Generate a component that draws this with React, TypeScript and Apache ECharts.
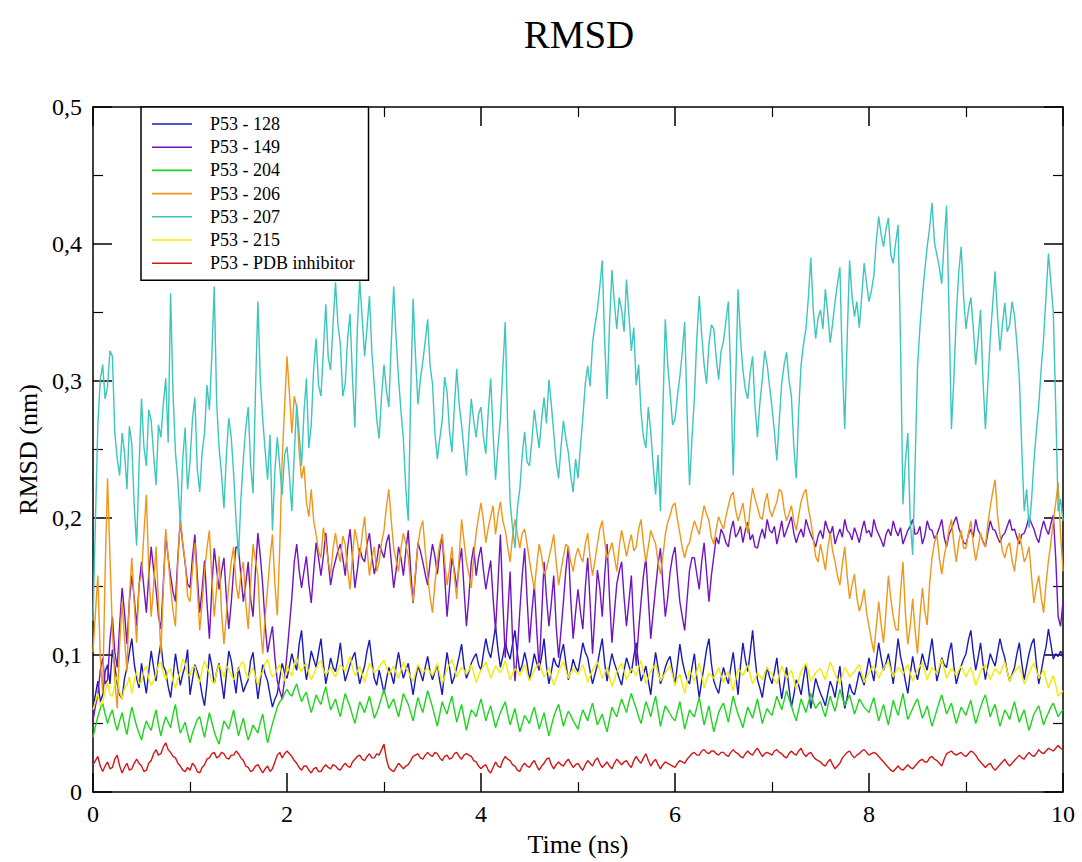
import React, { useEffect, useRef } from "react";
import * as echarts from "echarts";

// Simulation length (ns); each series is sampled uniformly over it
const SIM_LENGTH_NS = 10;

const SERIES_NAMES = [
  "P53 - 128",
  "P53 - 149",
  "P53 - 204",
  "P53 - 206",
  "P53 - 207",
  "P53 - 215",
  "P53 - PDB inhibitor",
];

const SERIES_COLORS = ["#1a1ab8", "#7014c0", "#1ed41e", "#f0961a", "#3cc6bc", "#f4ec00", "#d41616"];

const X_TICKS = [0, 2, 4, 6, 8, 10];
const Y_TICKS = [0, 0.1, 0.2, 0.3, 0.4, 0.5];

const rmsd128 = [
  0.062, 0.071, 0.081, 0.066, 0.071, 0.088, 0.093, 0.079, 0.104, 0.092,
  0.079, 0.071, 0.068, 0.083, 0.091, 0.102, 0.112, 0.094, 0.083, 0.076,
  0.094, 0.083, 0.072, 0.088, 0.103, 0.091, 0.081, 0.098, 0.109, 0.092,
  0.088, 0.077, 0.069, 0.084, 0.101, 0.089, 0.078, 0.086, 0.092, 0.104,
  0.071, 0.082, 0.093, 0.088, 0.082, 0.071, 0.063, 0.079, 0.101, 0.092,
  0.079, 0.088, 0.094, 0.081, 0.068, 0.086, 0.103, 0.096, 0.084, 0.072,
  0.091, 0.082, 0.073, 0.078, 0.082, 0.096, 0.102, 0.084, 0.068, 0.081,
  0.093, 0.086, 0.081, 0.071, 0.062, 0.068, 0.072, 0.083, 0.094, 0.087,
  0.083, 0.092, 0.101, 0.094, 0.089, 0.108, 0.118, 0.096, 0.082, 0.091,
  0.103, 0.097, 0.091, 0.102, 0.112, 0.094, 0.079, 0.088, 0.098, 0.091,
  0.088, 0.097, 0.109, 0.092, 0.081, 0.087, 0.093, 0.098, 0.102, 0.089,
  0.079, 0.086, 0.092, 0.103, 0.111, 0.096, 0.083, 0.078, 0.089, 0.081,
  0.072, 0.082, 0.091, 0.086, 0.079, 0.092, 0.102, 0.091, 0.083, 0.089,
  0.094, 0.082, 0.071, 0.083, 0.092, 0.087, 0.081, 0.091, 0.099, 0.088,
  0.082, 0.088, 0.093, 0.081, 0.071, 0.088, 0.102, 0.091, 0.079, 0.084,
  0.091, 0.099, 0.108, 0.092, 0.083, 0.088, 0.094, 0.098, 0.101, 0.093,
  0.089, 0.101, 0.112, 0.103, 0.098, 0.109, 0.121, 0.104, 0.091, 0.099,
  0.109, 0.102, 0.097, 0.108, 0.118, 0.101, 0.088, 0.093, 0.102, 0.094,
  0.082, 0.091, 0.101, 0.094, 0.089, 0.099, 0.112, 0.092, 0.079, 0.088,
  0.098, 0.093, 0.091, 0.101, 0.108, 0.094, 0.082, 0.088, 0.097, 0.091,
  0.088, 0.098, 0.109, 0.102, 0.098, 0.088, 0.079, 0.086, 0.093, 0.103,
  0.112, 0.094, 0.081, 0.092, 0.101, 0.094, 0.089, 0.083, 0.078, 0.089,
  0.098, 0.092, 0.087, 0.099, 0.109, 0.093, 0.081, 0.086, 0.092, 0.081,
  0.071, 0.088, 0.102, 0.091, 0.079, 0.084, 0.091, 0.096, 0.099, 0.088,
  0.078, 0.093, 0.108, 0.096, 0.088, 0.082, 0.079, 0.091, 0.101, 0.083,
  0.069, 0.081, 0.092, 0.104, 0.112, 0.094, 0.081, 0.076, 0.072, 0.083,
  0.091, 0.084, 0.079, 0.091, 0.102, 0.086, 0.071, 0.092, 0.109, 0.097,
  0.088, 0.102, 0.118, 0.098, 0.082, 0.076, 0.069, 0.081, 0.091, 0.084,
  0.079, 0.088, 0.098, 0.081, 0.068, 0.079, 0.091, 0.076, 0.062, 0.071,
  0.082, 0.078, 0.071, 0.083, 0.093, 0.077, 0.061, 0.072, 0.083, 0.077,
  0.072, 0.068, 0.063, 0.072, 0.081, 0.076, 0.069, 0.081, 0.092, 0.074,
  0.061, 0.069, 0.079, 0.073, 0.071, 0.079, 0.088, 0.083, 0.078, 0.088,
  0.098, 0.089, 0.081, 0.096, 0.109, 0.098, 0.089, 0.094, 0.101, 0.091,
  0.079, 0.096, 0.112, 0.099, 0.091, 0.081, 0.072, 0.086, 0.099, 0.089,
  0.082, 0.091, 0.101, 0.094, 0.089, 0.101, 0.112, 0.096, 0.081, 0.089,
  0.098, 0.093, 0.091, 0.102, 0.109, 0.092, 0.079, 0.086, 0.092, 0.097,
  0.101, 0.111, 0.118, 0.102, 0.089, 0.098, 0.109, 0.094, 0.082, 0.092,
  0.101, 0.096, 0.092, 0.102, 0.112, 0.104, 0.098, 0.088, 0.081, 0.086,
  0.091, 0.101, 0.109, 0.094, 0.082, 0.092, 0.101, 0.108, 0.112, 0.094,
  0.079, 0.088, 0.098, 0.106, 0.119, 0.108, 0.097, 0.101, 0.099, 0.103,
  0.098,
];

const rmsd149 = [
  0.052, 0.063, 0.071, 0.089, 0.098, 0.079, 0.082, 0.111, 0.128, 0.102,
  0.091, 0.122, 0.149, 0.131, 0.108, 0.139, 0.158, 0.142, 0.121, 0.151,
  0.168, 0.149, 0.131, 0.158, 0.179, 0.162, 0.148, 0.128, 0.119, 0.152,
  0.188, 0.171, 0.158, 0.146, 0.139, 0.172, 0.198, 0.181, 0.167, 0.152,
  0.149, 0.171, 0.188, 0.158, 0.131, 0.148, 0.169, 0.138, 0.112, 0.149,
  0.178, 0.162, 0.148, 0.161, 0.171, 0.142, 0.119, 0.138, 0.162, 0.179,
  0.178, 0.158, 0.139, 0.152, 0.168, 0.141, 0.128, 0.162, 0.189, 0.172,
  0.151, 0.122, 0.102, 0.112, 0.121, 0.098, 0.081, 0.074, 0.068, 0.082,
  0.101, 0.121, 0.142, 0.168, 0.181, 0.162, 0.149, 0.161, 0.172, 0.152,
  0.138, 0.161, 0.182, 0.171, 0.158, 0.172, 0.189, 0.168, 0.151, 0.162,
  0.169, 0.176, 0.181, 0.171, 0.158, 0.178, 0.192, 0.172, 0.149, 0.162,
  0.178, 0.171, 0.168, 0.181, 0.189, 0.172, 0.159, 0.168, 0.181, 0.176,
  0.171, 0.182, 0.188, 0.168, 0.149, 0.162, 0.179, 0.171, 0.158, 0.176,
  0.191, 0.162, 0.138, 0.159, 0.182, 0.176, 0.168, 0.159, 0.151, 0.168,
  0.181, 0.172, 0.159, 0.176, 0.188, 0.158, 0.128, 0.149, 0.171, 0.162,
  0.149, 0.166, 0.178, 0.148, 0.121, 0.142, 0.168, 0.179, 0.158, 0.171,
  0.179, 0.162, 0.148, 0.159, 0.169, 0.141, 0.118, 0.152, 0.188, 0.139,
  0.098, 0.128, 0.161, 0.112, 0.081, 0.102, 0.132, 0.158, 0.178, 0.141,
  0.109, 0.132, 0.151, 0.118, 0.089, 0.128, 0.168, 0.142, 0.121, 0.138,
  0.158, 0.121, 0.098, 0.118, 0.139, 0.162, 0.179, 0.141, 0.112, 0.131,
  0.148, 0.132, 0.119, 0.149, 0.171, 0.138, 0.101, 0.131, 0.162, 0.149,
  0.128, 0.158, 0.181, 0.142, 0.109, 0.131, 0.152, 0.161, 0.168, 0.142,
  0.121, 0.139, 0.158, 0.121, 0.092, 0.118, 0.139, 0.158, 0.171, 0.141,
  0.112, 0.131, 0.149, 0.166, 0.178, 0.152, 0.128, 0.142, 0.161, 0.172,
  0.179, 0.158, 0.139, 0.128, 0.118, 0.141, 0.162, 0.171, 0.171, 0.159,
  0.148, 0.168, 0.182, 0.161, 0.139, 0.158, 0.172, 0.186, 0.181, 0.192,
  0.188, 0.182, 0.179, 0.191, 0.198, 0.186, 0.189, 0.194, 0.182, 0.191,
  0.197, 0.184, 0.188, 0.179, 0.178, 0.186, 0.192, 0.185, 0.199, 0.191,
  0.189, 0.194, 0.181, 0.189, 0.198, 0.186, 0.191, 0.196, 0.201, 0.189,
  0.182, 0.188, 0.192, 0.186, 0.199, 0.193, 0.188, 0.184, 0.179, 0.187,
  0.191, 0.185, 0.198, 0.192, 0.188, 0.194, 0.181, 0.187, 0.192, 0.186,
  0.199, 0.191, 0.189, 0.184, 0.193, 0.188, 0.182, 0.191, 0.198, 0.189,
  0.191, 0.186, 0.199, 0.192, 0.188, 0.184, 0.179, 0.188, 0.192, 0.187,
  0.198, 0.191, 0.187, 0.193, 0.181, 0.186, 0.191, 0.194, 0.199, 0.188,
  0.189, 0.194, 0.181, 0.187, 0.198, 0.192, 0.191, 0.185, 0.188, 0.193,
  0.199, 0.186, 0.179, 0.188, 0.192, 0.197, 0.201, 0.193, 0.188, 0.182,
  0.181, 0.188, 0.192, 0.186, 0.199, 0.191, 0.188, 0.183, 0.179, 0.189,
  0.198, 0.192, 0.191, 0.186, 0.182, 0.187, 0.189, 0.194, 0.199, 0.191,
  0.192, 0.186, 0.181, 0.188, 0.189, 0.194, 0.201, 0.196, 0.192, 0.186,
  0.182, 0.191, 0.198, 0.192, 0.188, 0.196, 0.202, 0.171, 0.128, 0.121,
  0.139,
];

const rmsd204 = [
  0.040, 0.048, 0.055, 0.061, 0.065, 0.057, 0.050, 0.056, 0.060, 0.051,
  0.045, 0.052, 0.058, 0.049, 0.042, 0.053, 0.062, 0.055, 0.048, 0.043,
  0.038, 0.046, 0.052, 0.048, 0.045, 0.053, 0.060, 0.049, 0.041, 0.049,
  0.055, 0.051, 0.047, 0.057, 0.064, 0.052, 0.043, 0.047, 0.051, 0.043,
  0.036, 0.043, 0.048, 0.053, 0.055, 0.047, 0.040, 0.049, 0.058, 0.051,
  0.044, 0.039, 0.035, 0.044, 0.052, 0.049, 0.046, 0.053, 0.060, 0.050,
  0.041, 0.048, 0.054, 0.045, 0.038, 0.043, 0.049, 0.046, 0.043, 0.051,
  0.057, 0.046, 0.036, 0.043, 0.050, 0.056, 0.062, 0.066, 0.068, 0.072,
  0.075, 0.072, 0.070, 0.075, 0.079, 0.072, 0.066, 0.070, 0.073, 0.065,
  0.058, 0.064, 0.071, 0.067, 0.064, 0.071, 0.077, 0.068, 0.060, 0.064,
  0.068, 0.061, 0.055, 0.064, 0.072, 0.067, 0.062, 0.056, 0.050, 0.058,
  0.066, 0.062, 0.058, 0.064, 0.070, 0.062, 0.054, 0.058, 0.063, 0.069,
  0.075, 0.068, 0.061, 0.065, 0.068, 0.061, 0.055, 0.063, 0.072, 0.068,
  0.064, 0.058, 0.052, 0.061, 0.069, 0.063, 0.058, 0.066, 0.074, 0.068,
  0.062, 0.055, 0.048, 0.057, 0.066, 0.061, 0.057, 0.064, 0.070, 0.060,
  0.051, 0.058, 0.064, 0.054, 0.045, 0.053, 0.060, 0.058, 0.055, 0.062,
  0.068, 0.060, 0.052, 0.058, 0.063, 0.055, 0.047, 0.053, 0.058, 0.062,
  0.066, 0.057, 0.049, 0.055, 0.061, 0.052, 0.044, 0.050, 0.056, 0.053,
  0.050, 0.057, 0.062, 0.054, 0.046, 0.052, 0.058, 0.049, 0.041, 0.048,
  0.055, 0.060, 0.064, 0.056, 0.048, 0.054, 0.059, 0.056, 0.052, 0.049,
  0.046, 0.054, 0.060, 0.056, 0.052, 0.059, 0.065, 0.057, 0.049, 0.053,
  0.057, 0.050, 0.044, 0.053, 0.062, 0.058, 0.055, 0.062, 0.068, 0.063,
  0.058, 0.066, 0.072, 0.066, 0.061, 0.055, 0.050, 0.058, 0.066, 0.061,
  0.055, 0.063, 0.070, 0.059, 0.048, 0.056, 0.063, 0.060, 0.057, 0.054,
  0.052, 0.059, 0.066, 0.056, 0.046, 0.053, 0.060, 0.057, 0.055, 0.062,
  0.069, 0.059, 0.049, 0.056, 0.063, 0.053, 0.044, 0.051, 0.058, 0.062,
  0.065, 0.058, 0.051, 0.061, 0.070, 0.063, 0.057, 0.052, 0.047, 0.055,
  0.062, 0.058, 0.054, 0.061, 0.068, 0.059, 0.050, 0.056, 0.061, 0.058,
  0.056, 0.063, 0.070, 0.065, 0.060, 0.067, 0.074, 0.068, 0.063, 0.057,
  0.052, 0.060, 0.068, 0.063, 0.058, 0.065, 0.072, 0.066, 0.061, 0.064,
  0.066, 0.060, 0.055, 0.063, 0.070, 0.064, 0.059, 0.067, 0.075, 0.069,
  0.063, 0.067, 0.071, 0.064, 0.057, 0.062, 0.068, 0.065, 0.062, 0.060,
  0.058, 0.064, 0.069, 0.060, 0.052, 0.058, 0.064, 0.056, 0.049, 0.058,
  0.067, 0.061, 0.056, 0.064, 0.072, 0.062, 0.053, 0.057, 0.061, 0.065,
  0.068, 0.061, 0.054, 0.058, 0.063, 0.055, 0.048, 0.054, 0.060, 0.066,
  0.071, 0.064, 0.057, 0.061, 0.065, 0.057, 0.050, 0.056, 0.062, 0.059,
  0.056, 0.062, 0.067, 0.058, 0.050, 0.056, 0.062, 0.067, 0.071, 0.063,
  0.055, 0.060, 0.064, 0.056, 0.048, 0.054, 0.060, 0.057, 0.053, 0.060,
  0.066, 0.058, 0.051, 0.056, 0.060, 0.052, 0.045, 0.051, 0.057, 0.060,
  0.063, 0.056, 0.049, 0.054, 0.058, 0.062, 0.065, 0.060, 0.055, 0.058,
  0.060,
];

const rmsd206 = [
  0.102, 0.131, 0.158, 0.098, 0.072, 0.161, 0.229, 0.172, 0.118, 0.082,
  0.061, 0.108, 0.139, 0.112, 0.088, 0.142, 0.171, 0.138, 0.109, 0.152,
  0.158, 0.189, 0.217, 0.162, 0.128, 0.151, 0.179, 0.138, 0.101, 0.148,
  0.192, 0.171, 0.149, 0.132, 0.121, 0.168, 0.201, 0.182, 0.168, 0.143,
  0.139, 0.162, 0.182, 0.149, 0.118, 0.138, 0.161, 0.178, 0.191, 0.156,
  0.128, 0.149, 0.172, 0.131, 0.108, 0.129, 0.151, 0.168, 0.179, 0.152,
  0.141, 0.159, 0.168, 0.138, 0.119, 0.152, 0.181, 0.169, 0.158, 0.122,
  0.101, 0.128, 0.149, 0.171, 0.188, 0.152, 0.129, 0.178, 0.242, 0.281,
  0.318, 0.291, 0.262, 0.289, 0.281, 0.248, 0.229, 0.238, 0.212, 0.201,
  0.221, 0.198, 0.188, 0.176, 0.171, 0.193, 0.182, 0.168, 0.159, 0.178,
  0.189, 0.176, 0.168, 0.187, 0.181, 0.162, 0.148, 0.172, 0.192, 0.183,
  0.171, 0.188, 0.201, 0.178, 0.158, 0.171, 0.179, 0.161, 0.168, 0.182,
  0.191, 0.208, 0.221, 0.198, 0.178, 0.169, 0.161, 0.178, 0.189, 0.181,
  0.172, 0.151, 0.139, 0.162, 0.181, 0.192, 0.198, 0.176, 0.158, 0.142,
  0.131, 0.152, 0.169, 0.181, 0.188, 0.169, 0.151, 0.163, 0.179, 0.158,
  0.141, 0.172, 0.199, 0.183, 0.168, 0.159, 0.149, 0.172, 0.189, 0.201,
  0.211, 0.198, 0.182, 0.193, 0.201, 0.209, 0.188, 0.202, 0.212, 0.198,
  0.191, 0.179, 0.168, 0.186, 0.199, 0.188, 0.178, 0.189, 0.192, 0.181,
  0.169, 0.158, 0.148, 0.166, 0.181, 0.172, 0.159, 0.163, 0.171, 0.179,
  0.188, 0.168, 0.151, 0.162, 0.172, 0.181, 0.179, 0.168, 0.161, 0.172,
  0.178, 0.172, 0.168, 0.181, 0.189, 0.171, 0.158, 0.169, 0.181, 0.192,
  0.198, 0.183, 0.171, 0.176, 0.182, 0.172, 0.161, 0.179, 0.191, 0.182,
  0.172, 0.181, 0.188, 0.176, 0.179, 0.192, 0.199, 0.181, 0.168, 0.179,
  0.191, 0.186, 0.181, 0.168, 0.159, 0.172, 0.188, 0.197, 0.202, 0.209,
  0.211, 0.199, 0.189, 0.178, 0.171, 0.179, 0.182, 0.191, 0.198, 0.193,
  0.188, 0.199, 0.209, 0.203, 0.198, 0.186, 0.181, 0.192, 0.201, 0.196,
  0.192, 0.201, 0.209, 0.216, 0.219, 0.206, 0.198, 0.204, 0.211, 0.198,
  0.189, 0.208, 0.222, 0.214, 0.208, 0.201, 0.199, 0.211, 0.218, 0.206,
  0.201, 0.207, 0.212, 0.221, 0.219, 0.206, 0.198, 0.203, 0.209, 0.198,
  0.191, 0.202, 0.212, 0.218, 0.221, 0.207, 0.198, 0.186, 0.172, 0.168,
  0.181, 0.172, 0.162, 0.178, 0.189, 0.176, 0.168, 0.158, 0.151, 0.166,
  0.179, 0.158, 0.141, 0.151, 0.159, 0.142, 0.132, 0.138, 0.148, 0.131,
  0.121, 0.111, 0.102, 0.121, 0.139, 0.122, 0.109, 0.132, 0.158, 0.141,
  0.128, 0.119, 0.118, 0.146, 0.168, 0.131, 0.108, 0.121, 0.141, 0.118,
  0.101, 0.128, 0.149, 0.132, 0.122, 0.152, 0.171, 0.182, 0.188, 0.171,
  0.159, 0.172, 0.181, 0.192, 0.199, 0.181, 0.168, 0.182, 0.191, 0.178,
  0.178, 0.189, 0.198, 0.181, 0.169, 0.178, 0.189, 0.182, 0.179, 0.196,
  0.208, 0.219, 0.228, 0.202, 0.188, 0.176, 0.171, 0.179, 0.182, 0.169,
  0.161, 0.176, 0.189, 0.179, 0.168, 0.172, 0.179, 0.158, 0.138, 0.149,
  0.158, 0.142, 0.131, 0.152, 0.169, 0.182, 0.198, 0.211, 0.226, 0.188,
  0.161,
];

const rmsd207 = [
  0.125, 0.198, 0.268, 0.301, 0.312, 0.287, 0.296, 0.322, 0.318, 0.262,
  0.243, 0.231, 0.262, 0.248, 0.221, 0.267, 0.254, 0.209, 0.180, 0.238,
  0.287, 0.252, 0.238, 0.279, 0.271, 0.246, 0.224, 0.268, 0.259, 0.283,
  0.302, 0.255, 0.364, 0.291, 0.248, 0.227, 0.196, 0.243, 0.266, 0.221,
  0.241, 0.272, 0.288, 0.236, 0.219, 0.248, 0.262, 0.297, 0.279, 0.318,
  0.369, 0.284, 0.251, 0.232, 0.207, 0.246, 0.273, 0.259, 0.232, 0.198,
  0.172, 0.214, 0.243, 0.266, 0.281, 0.239, 0.218, 0.293, 0.358, 0.301,
  0.272, 0.249, 0.228, 0.261, 0.191, 0.234, 0.259, 0.238, 0.217, 0.246,
  0.252, 0.231, 0.205, 0.247, 0.283, 0.262, 0.238, 0.277, 0.302, 0.251,
  0.268, 0.309, 0.331, 0.297, 0.289, 0.322, 0.356, 0.317, 0.308, 0.342,
  0.372, 0.341, 0.327, 0.289, 0.298, 0.331, 0.349, 0.302, 0.266, 0.338,
  0.374, 0.346, 0.318, 0.339, 0.362, 0.321, 0.297, 0.272, 0.258, 0.289,
  0.312, 0.293, 0.281, 0.328, 0.369, 0.331, 0.302, 0.278, 0.257, 0.221,
  0.198, 0.289, 0.360, 0.318, 0.283, 0.301, 0.314, 0.329, 0.345, 0.311,
  0.298, 0.262, 0.243, 0.258, 0.271, 0.303, 0.292, 0.264, 0.248, 0.281,
  0.309, 0.283, 0.268, 0.249, 0.231, 0.262, 0.287, 0.271, 0.259, 0.276,
  0.281, 0.259, 0.247, 0.278, 0.302, 0.261, 0.228, 0.252, 0.272, 0.309,
  0.343, 0.268, 0.212, 0.193, 0.178, 0.207, 0.221, 0.246, 0.263, 0.241,
  0.238, 0.257, 0.279, 0.264, 0.251, 0.272, 0.288, 0.269, 0.301, 0.283,
  0.262, 0.241, 0.229, 0.252, 0.271, 0.258, 0.248, 0.231, 0.219, 0.243,
  0.229, 0.252, 0.273, 0.298, 0.311, 0.296, 0.328, 0.341, 0.352, 0.369,
  0.388, 0.329, 0.287, 0.342, 0.381, 0.357, 0.338, 0.361, 0.352, 0.336,
  0.374, 0.348, 0.322, 0.339, 0.297, 0.312, 0.277, 0.259, 0.251, 0.281,
  0.263, 0.238, 0.217, 0.246, 0.205, 0.278, 0.345, 0.312, 0.291, 0.268,
  0.272, 0.289, 0.303, 0.321, 0.343, 0.276, 0.224, 0.258, 0.288, 0.331,
  0.362, 0.334, 0.312, 0.298, 0.327, 0.341, 0.338, 0.317, 0.301, 0.322,
  0.329, 0.344, 0.358, 0.302, 0.231, 0.298, 0.367, 0.331, 0.308, 0.294,
  0.287, 0.306, 0.318, 0.281, 0.259, 0.284, 0.301, 0.322, 0.312, 0.296,
  0.281, 0.263, 0.242, 0.271, 0.298, 0.312, 0.321, 0.301, 0.289, 0.252,
  0.229, 0.278, 0.312, 0.327, 0.338, 0.361, 0.390, 0.352, 0.331, 0.346,
  0.352, 0.338, 0.367, 0.349, 0.328, 0.342, 0.358, 0.371, 0.383, 0.312,
  0.265, 0.331, 0.388, 0.362, 0.347, 0.358, 0.339, 0.362, 0.386, 0.371,
  0.358, 0.366, 0.377, 0.402, 0.420, 0.407, 0.398, 0.411, 0.419, 0.392,
  0.386, 0.401, 0.414, 0.328, 0.210, 0.241, 0.262, 0.198, 0.173, 0.238,
  0.310, 0.339, 0.362, 0.381, 0.398, 0.412, 0.430, 0.401, 0.392, 0.383,
  0.371, 0.402, 0.428, 0.351, 0.265, 0.302, 0.348, 0.379, 0.398, 0.362,
  0.338, 0.352, 0.361, 0.339, 0.312, 0.331, 0.352, 0.301, 0.265, 0.298,
  0.331, 0.356, 0.380, 0.348, 0.322, 0.341, 0.357, 0.336, 0.341, 0.358,
  0.348, 0.327, 0.302, 0.251, 0.205, 0.221, 0.193, 0.212, 0.241, 0.263,
  0.282, 0.309, 0.331, 0.362, 0.393, 0.372, 0.350, 0.281, 0.205, 0.214,
  0.198,
];

const rmsd215 = [
  0.060, 0.066, 0.072, 0.063, 0.065, 0.074, 0.080, 0.071, 0.070, 0.079,
  0.085, 0.073, 0.068, 0.076, 0.078, 0.084, 0.072, 0.081, 0.088, 0.079,
  0.080, 0.089, 0.092, 0.083, 0.078, 0.081, 0.086, 0.093, 0.095, 0.087,
  0.082, 0.088, 0.090, 0.081, 0.076, 0.083, 0.088, 0.097, 0.094, 0.086,
  0.085, 0.091, 0.092, 0.084, 0.080, 0.089, 0.096, 0.091, 0.087, 0.081,
  0.079, 0.088, 0.093, 0.089, 0.084, 0.092, 0.090, 0.085, 0.082, 0.087,
  0.089, 0.094, 0.095, 0.087, 0.083, 0.088, 0.091, 0.084, 0.078, 0.085,
  0.088, 0.094, 0.097, 0.089, 0.084, 0.086, 0.090, 0.093, 0.086, 0.081,
  0.092, 0.088, 0.085, 0.093, 0.098, 0.091, 0.088, 0.092, 0.094, 0.087,
  0.082, 0.086, 0.090, 0.094, 0.096, 0.089, 0.086, 0.088, 0.091, 0.087,
  0.084, 0.089, 0.093, 0.091, 0.088, 0.094, 0.099, 0.091, 0.085, 0.088,
  0.092, 0.086, 0.080, 0.087, 0.094, 0.091, 0.087, 0.089, 0.091, 0.094,
  0.096, 0.091, 0.086, 0.089, 0.092, 0.087, 0.083, 0.089, 0.095, 0.091,
  0.088, 0.084, 0.081, 0.087, 0.093, 0.090, 0.087, 0.089, 0.090, 0.088,
  0.085, 0.089, 0.094, 0.086, 0.079, 0.084, 0.090, 0.093, 0.097, 0.091,
  0.084, 0.088, 0.091, 0.089, 0.086, 0.089, 0.093, 0.087, 0.080, 0.085,
  0.089, 0.092, 0.095, 0.089, 0.083, 0.088, 0.092, 0.090, 0.087, 0.091,
  0.096, 0.089, 0.082, 0.086, 0.090, 0.088, 0.085, 0.089, 0.093, 0.087,
  0.081, 0.085, 0.089, 0.092, 0.094, 0.089, 0.084, 0.087, 0.091, 0.084,
  0.078, 0.083, 0.088, 0.092, 0.095, 0.089, 0.083, 0.087, 0.090, 0.088,
  0.086, 0.090, 0.093, 0.087, 0.080, 0.085, 0.089, 0.092, 0.095, 0.089,
  0.083, 0.087, 0.091, 0.084, 0.077, 0.082, 0.088, 0.091, 0.094, 0.088,
  0.082, 0.086, 0.090, 0.088, 0.085, 0.091, 0.096, 0.087, 0.079, 0.084,
  0.088, 0.091, 0.093, 0.087, 0.081, 0.084, 0.087, 0.090, 0.092, 0.085,
  0.078, 0.083, 0.086, 0.079, 0.072, 0.081, 0.089, 0.085, 0.081, 0.088,
  0.094, 0.085, 0.076, 0.082, 0.087, 0.085, 0.083, 0.087, 0.091, 0.085,
  0.080, 0.085, 0.088, 0.081, 0.074, 0.082, 0.090, 0.088, 0.085, 0.089,
  0.093, 0.086, 0.079, 0.083, 0.087, 0.085, 0.082, 0.087, 0.091, 0.088,
  0.086, 0.082, 0.079, 0.086, 0.092, 0.088, 0.083, 0.086, 0.089, 0.082,
  0.075, 0.082, 0.088, 0.091, 0.094, 0.088, 0.081, 0.084, 0.087, 0.089,
  0.090, 0.086, 0.082, 0.089, 0.095, 0.091, 0.086, 0.082, 0.079, 0.085,
  0.091, 0.088, 0.084, 0.086, 0.088, 0.091, 0.093, 0.087, 0.080, 0.084,
  0.087, 0.090, 0.092, 0.088, 0.083, 0.087, 0.090, 0.093, 0.095, 0.089,
  0.084, 0.088, 0.091, 0.089, 0.086, 0.090, 0.093, 0.087, 0.081, 0.085,
  0.089, 0.092, 0.094, 0.088, 0.082, 0.087, 0.091, 0.089, 0.086, 0.092,
  0.097, 0.090, 0.083, 0.087, 0.090, 0.088, 0.085, 0.089, 0.092, 0.088,
  0.084, 0.088, 0.091, 0.085, 0.078, 0.083, 0.088, 0.091, 0.093, 0.087,
  0.082, 0.086, 0.090, 0.088, 0.086, 0.091, 0.095, 0.088, 0.081, 0.085,
  0.088, 0.090, 0.092, 0.086, 0.079, 0.083, 0.087, 0.091, 0.094, 0.089,
  0.083, 0.086, 0.089, 0.082, 0.076, 0.081, 0.085, 0.078, 0.070, 0.072,
  0.074,
];

const rmsdPDB = [
  0.020, 0.023, 0.026, 0.019, 0.015, 0.019, 0.022, 0.017, 0.018, 0.024,
  0.027, 0.019, 0.014, 0.018, 0.021, 0.016, 0.017, 0.021, 0.024, 0.021,
  0.019, 0.015, 0.016, 0.021, 0.023, 0.028, 0.031, 0.027, 0.028, 0.033,
  0.036, 0.031, 0.029, 0.026, 0.025, 0.021, 0.019, 0.016, 0.015, 0.018,
  0.016, 0.021, 0.019, 0.015, 0.014, 0.018, 0.020, 0.024, 0.025, 0.028,
  0.029, 0.025, 0.026, 0.029, 0.028, 0.025, 0.024, 0.027, 0.027, 0.030,
  0.028, 0.025, 0.023, 0.019, 0.018, 0.015, 0.016, 0.019, 0.020, 0.017,
  0.014, 0.017, 0.019, 0.015, 0.017, 0.022, 0.027, 0.029, 0.025, 0.028,
  0.030, 0.028, 0.026, 0.023, 0.021, 0.018, 0.016, 0.019, 0.019, 0.016,
  0.014, 0.017, 0.018, 0.015, 0.015, 0.018, 0.020, 0.018, 0.017, 0.020,
  0.019, 0.017, 0.016, 0.019, 0.021, 0.019, 0.018, 0.022, 0.024, 0.026,
  0.027, 0.024, 0.023, 0.026, 0.028, 0.025, 0.025, 0.028, 0.027, 0.031,
  0.035, 0.024, 0.018, 0.016, 0.015, 0.018, 0.021, 0.019, 0.017, 0.019,
  0.020, 0.023, 0.026, 0.027, 0.028, 0.025, 0.024, 0.027, 0.029, 0.027,
  0.026, 0.029, 0.028, 0.025, 0.023, 0.026, 0.027, 0.024, 0.025, 0.028,
  0.029, 0.026, 0.024, 0.027, 0.028, 0.027, 0.026, 0.023, 0.022, 0.019,
  0.017, 0.019, 0.020, 0.016, 0.014, 0.018, 0.022, 0.019, 0.018, 0.023,
  0.026, 0.024, 0.023, 0.020, 0.019, 0.016, 0.015, 0.019, 0.021, 0.019,
  0.018, 0.021, 0.023, 0.019, 0.016, 0.019, 0.021, 0.024, 0.025, 0.020,
  0.017, 0.020, 0.022, 0.020, 0.019, 0.022, 0.024, 0.021, 0.018, 0.020,
  0.021, 0.018, 0.016, 0.020, 0.023, 0.021, 0.019, 0.023, 0.025, 0.021,
  0.018, 0.020, 0.022, 0.019, 0.017, 0.021, 0.024, 0.022, 0.020, 0.022,
  0.023, 0.020, 0.018, 0.023, 0.026, 0.023, 0.021, 0.025, 0.028, 0.023,
  0.019, 0.022, 0.024, 0.020, 0.017, 0.020, 0.022, 0.021, 0.020, 0.019,
  0.018, 0.021, 0.023, 0.022, 0.021, 0.024, 0.026, 0.028, 0.029, 0.027,
  0.027, 0.030, 0.031, 0.029, 0.028, 0.030, 0.030, 0.028, 0.027, 0.029,
  0.029, 0.027, 0.026, 0.029, 0.031, 0.029, 0.028, 0.026, 0.025, 0.028,
  0.030, 0.028, 0.027, 0.030, 0.032, 0.029, 0.026, 0.028, 0.029, 0.028,
  0.027, 0.030, 0.031, 0.029, 0.028, 0.026, 0.025, 0.028, 0.030, 0.028,
  0.027, 0.030, 0.032, 0.028, 0.026, 0.028, 0.029, 0.026, 0.024, 0.023,
  0.022, 0.020, 0.019, 0.022, 0.024, 0.020, 0.017, 0.019, 0.021, 0.025,
  0.027, 0.029, 0.030, 0.027, 0.025, 0.027, 0.028, 0.030, 0.031, 0.029,
  0.027, 0.028, 0.029, 0.028, 0.026, 0.024, 0.022, 0.020, 0.018, 0.016,
  0.015, 0.017, 0.019, 0.017, 0.016, 0.018, 0.020, 0.018, 0.017, 0.019,
  0.021, 0.023, 0.024, 0.022, 0.022, 0.025, 0.026, 0.024, 0.023, 0.021,
  0.019, 0.024, 0.028, 0.029, 0.030, 0.028, 0.027, 0.028, 0.029, 0.027,
  0.026, 0.028, 0.030, 0.029, 0.027, 0.024, 0.022, 0.020, 0.018, 0.020,
  0.021, 0.018, 0.016, 0.018, 0.020, 0.022, 0.024, 0.021, 0.019, 0.021,
  0.023, 0.025, 0.027, 0.025, 0.024, 0.027, 0.029, 0.027, 0.026, 0.028,
  0.031, 0.029, 0.028, 0.030, 0.032, 0.031, 0.030, 0.032, 0.034, 0.032,
  0.031,
];

const SERIES_VALUES = [rmsd128, rmsd149, rmsd204, rmsd206, rmsd207, rmsd215, rmsdPDB];

const SERIF = "Liberation Serif";

function fmtY(v: number): string {
  return v === 0 ? "0" : v.toFixed(1).replace(".", ",");
}

export default function App() {
  const ref = useRef<HTMLDivElement>(null);

  useEffect(() => {
    if (!ref.current) return;
    const chart = echarts.init(ref.current, undefined, { renderer: "svg" });

    const series = SERIES_NAMES.map((name, k) => {
      const vals = SERIES_VALUES[k];
      const n = vals.length;
      return {
        name,
        type: "line",
        xAxisIndex: 0,
        yAxisIndex: 0,
        symbol: "none",
        showSymbol: false,
        color: SERIES_COLORS[k],
        lineStyle: { width: 1.4, color: SERIES_COLORS[k] },
        data: vals.map((v, i) => [(i * SIM_LENGTH_NS) / (n - 1), v]),
        z: 2 + k,
      };
    });

    const axisLine = { show: true, onZero: false, lineStyle: { color: "#000", width: 1.5 } };
    const majorTick = { show: true, inside: true, length: 19, lineStyle: { color: "#000", width: 1.5 } };
    const minorTick = { show: true, splitNumber: 2, length: 10, lineStyle: { color: "#000", width: 1.2 } };

    const xBase = {
      type: "value",
      min: X_TICKS[0],
      max: X_TICKS[X_TICKS.length - 1],
      interval: X_TICKS[1] - X_TICKS[0],
      axisLine,
      axisTick: majorTick,
      minorTick,
      splitLine: { show: false },
    };
    const yBase = {
      type: "value",
      min: Y_TICKS[0],
      max: Y_TICKS[Y_TICKS.length - 1],
      interval: 0.1,
      axisLine,
      axisTick: majorTick,
      minorTick,
      splitLine: { show: false },
    };

    chart.setOption({
      animation: false,
      backgroundColor: "#fff",
      grid: { left: 93, right: 19, top: 107, bottom: 66, containLabel: false },
      graphic: [
        {
          type: "text",
          x: 579,
          y: 34,
          style: {
            text: "RMSD",
            fontFamily: SERIF,
            fontSize: 39,
            fill: "#000",
            textAlign: "center",
            textVerticalAlign: "middle",
          },
        },
      ],
      legend: {
        orient: "vertical",
        left: 141,
        top: 107,
        padding: [8, 14, 8, 11],
        itemGap: 5.2,
        itemWidth: 40,
        itemHeight: 1.6,
        icon: "rect",
        borderColor: "#000",
        borderWidth: 1.5,
        backgroundColor: "#fff",
        z: 20,
        data: SERIES_NAMES,
        textStyle: {
          fontFamily: SERIF,
          fontSize: 18,
          lineHeight: 18,
          color: "#000",
          padding: [0, 0, 0, 13],
        },
      },
      xAxis: [
        {
          ...xBase,
          position: "bottom",
          name: "Time (ns)",
          nameLocation: "middle",
          nameGap: 36,
          nameTextStyle: { fontFamily: SERIF, fontSize: 26, color: "#000" },
          axisLabel: { show: true, margin: 10, fontFamily: SERIF, fontSize: 24, color: "#000" },
        },
        {
          ...xBase,
          position: "top",
          axisLabel: { show: false },
        },
      ],
      yAxis: [
        {
          ...yBase,
          position: "left",
          name: "RMSD (nm)",
          nameLocation: "middle",
          nameGap: 52,
          nameTextStyle: { fontFamily: SERIF, fontSize: 26, color: "#000" },
          axisLabel: {
            show: true,
            margin: 11,
            fontFamily: SERIF,
            fontSize: 24,
            color: "#000",
            formatter: fmtY,
          },
        },
        {
          ...yBase,
          position: "right",
          axisLabel: { show: false },
        },
      ],
      series,
    });

    return () => {
      chart.dispose();
    };
  }, []);

  return (
    <div
      ref={ref}
      style={{ position: "fixed", left: 0, top: 0, width: 1082, height: 862, background: "#fff" }}
    />
  );
}
